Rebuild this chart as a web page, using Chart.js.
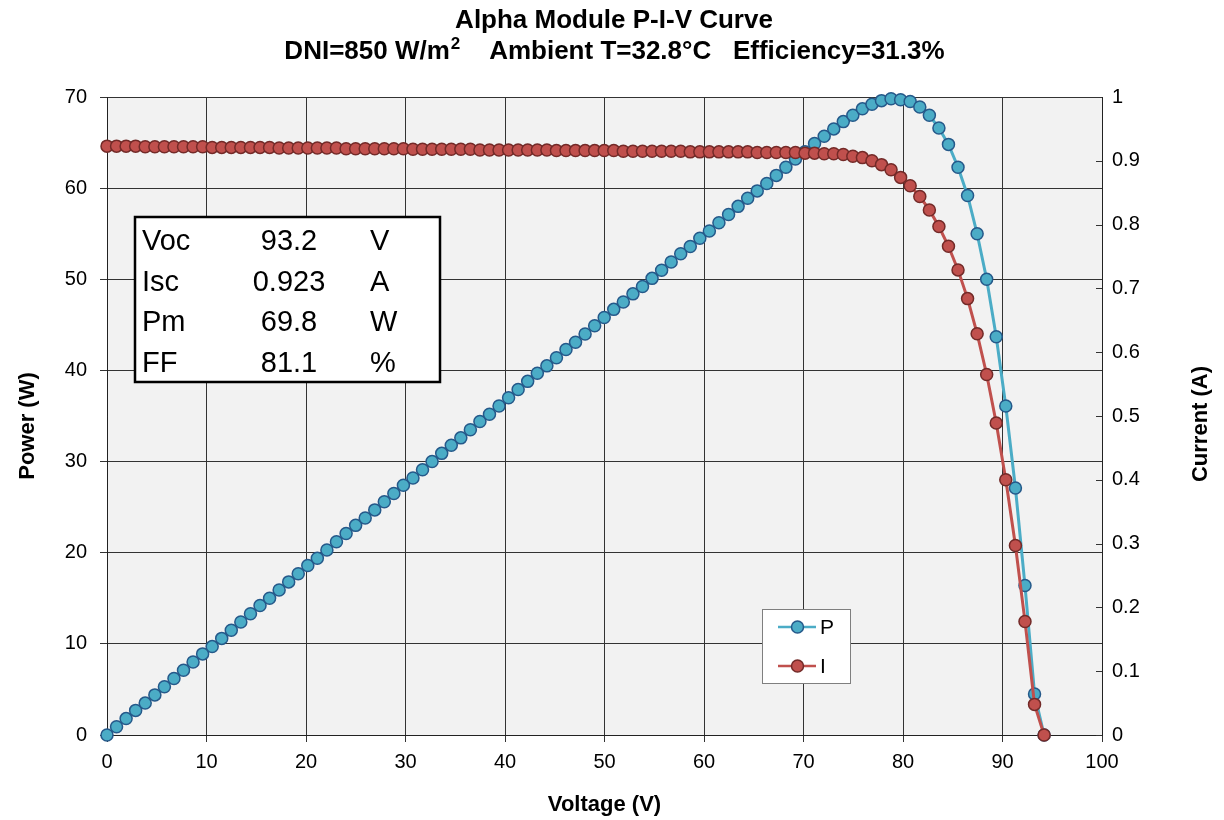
<!DOCTYPE html>
<html>
<head>
<meta charset="utf-8">
<script src="https://cdn.jsdelivr.net/npm/chart.js@4.4.0/dist/chart.umd.min.js"></script>
<style>
  html, body { margin: 0; padding: 0; background: #fff; }
</style>
</head>
<body>
<canvas id="pivChart" width="1224" height="820"></canvas>
<script>
// title: second line is split around the superscript "2" of W/m2
var titleMain = 'Alpha Module P-I-V Curve';
var titleSub = ['DNI=850 W/m', '2', '    Ambient T=32.8\u00b0C   Efficiency=31.3%'];

var voltage = [0.00, 0.96, 1.92, 2.88, 3.84, 4.81, 5.77, 6.73, 7.69, 8.65,
    9.61, 10.57, 11.53, 12.49, 13.45, 14.42, 15.38, 16.34, 17.30, 18.26,
    19.22, 20.18, 21.14, 22.10, 23.06, 24.03, 24.99, 25.95, 26.91, 27.87,
    28.83, 29.79, 30.75, 31.71, 32.67, 33.64, 34.60, 35.56, 36.52, 37.48,
    38.44, 39.40, 40.36, 41.32, 42.28, 43.25, 44.21, 45.17, 46.13, 47.09,
    48.05, 49.01, 49.97, 50.93, 51.89, 52.86, 53.82, 54.78, 55.74, 56.70,
    57.66, 58.62, 59.58, 60.54, 61.50, 62.47, 63.43, 64.39, 65.35, 66.31,
    67.27, 68.23, 69.19, 70.15, 71.11, 72.08, 73.04, 74.00, 74.96, 75.92,
    76.88, 77.84, 78.80, 79.76, 80.72, 81.69, 82.65, 83.61, 84.57, 85.53,
    86.49, 87.45, 88.41, 89.37, 90.33, 91.30, 92.26, 93.22, 94.18];

var power = [0.0, 0.9, 1.8, 2.7, 3.5, 4.4, 5.3, 6.2, 7.1, 8.0,
    8.9, 9.7, 10.6, 11.5, 12.4, 13.3, 14.2, 15.0, 15.9, 16.8,
    17.7, 18.6, 19.4, 20.3, 21.2, 22.1, 23.0, 23.8, 24.7, 25.6,
    26.5, 27.4, 28.2, 29.1, 30.0, 30.9, 31.8, 32.6, 33.5, 34.4,
    35.2, 36.1, 37.0, 37.9, 38.8, 39.7, 40.5, 41.4, 42.3, 43.1,
    44.0, 44.9, 45.8, 46.7, 47.5, 48.4, 49.2, 50.1, 51.0, 51.9,
    52.8, 53.6, 54.5, 55.3, 56.2, 57.1, 58.0, 58.9, 59.7, 60.5,
    61.4, 62.3, 63.2, 64.0, 64.9, 65.7, 66.5, 67.3, 68.0, 68.7,
    69.2, 69.6, 69.8, 69.7, 69.5, 68.9, 68.0, 66.6, 64.8, 62.3,
    59.2, 55.0, 50.0, 43.7, 36.1, 27.1, 16.4, 4.5, 0.0];

var current = [0.923, 0.923, 0.923, 0.923, 0.922, 0.922, 0.922, 0.922, 0.922, 0.922,
    0.922, 0.921, 0.921, 0.921, 0.921, 0.921, 0.921, 0.921, 0.920, 0.920,
    0.920, 0.920, 0.920, 0.920, 0.920, 0.919, 0.919, 0.919, 0.919, 0.919,
    0.919, 0.919, 0.918, 0.918, 0.918, 0.918, 0.918, 0.918, 0.918, 0.917,
    0.917, 0.917, 0.917, 0.917, 0.917, 0.917, 0.917, 0.916, 0.916, 0.916,
    0.916, 0.916, 0.916, 0.916, 0.915, 0.915, 0.915, 0.915, 0.915, 0.915,
    0.915, 0.914, 0.914, 0.914, 0.914, 0.914, 0.914, 0.914, 0.913, 0.913,
    0.913, 0.913, 0.913, 0.912, 0.912, 0.911, 0.911, 0.910, 0.907, 0.905,
    0.900, 0.894, 0.886, 0.874, 0.861, 0.844, 0.823, 0.797, 0.766, 0.729,
    0.684, 0.629, 0.565, 0.489, 0.400, 0.297, 0.178, 0.048, 0.000];

// summary table shown in the box
var statNames = ['Voc', 'Isc', 'Pm', 'FF'];
var statValues = ['93.2', '0.923', '69.8', '81.1'];
var statUnits = ['V', 'A', 'W', '%'];

var legendNames = ['P', 'I'];

var colors = {
    p: { line: '#4bacc6', fill: '#4bacc6', edge: '#25598a' },
    i: { line: '#c0504d', fill: '#c0504d', edge: '#732a28' }
};

var FONT = 'Arial, "Liberation Sans", sans-serif';

function toPoints(xs, ys) {
    var pts = [];
    for (let k = 0; k < xs.length; k++) pts.push({ x: xs[k], y: ys[k] });
    return pts;
}

var overlays = {
    id: 'overlays',
    beforeDraw(chart) {
        var a = chart.chartArea, ctx = chart.ctx;
        ctx.save();
        ctx.fillStyle = '#f2f2f2';
        ctx.fillRect(a.left, a.top, a.right - a.left, a.bottom - a.top);
        ctx.restore();
    },
    afterDraw(chart) {
        var ctx = chart.ctx, a = chart.chartArea;
        ctx.save();

        // title, drawn by hand so the superscript sits right
        ctx.fillStyle = '#000';
        ctx.textBaseline = 'alphabetic';
        ctx.textAlign = 'left';
        var big = 'bold 26px ' + FONT, small = 'bold 17px ' + FONT;
        ctx.font = big;
        var w1 = ctx.measureText(titleMain).width;
        ctx.fillText(titleMain, 614 - w1 / 2, 28);
        var wa = ctx.measureText(titleSub[0]).width, wc = ctx.measureText(titleSub[2]).width;
        ctx.font = small;
        var wb = ctx.measureText(titleSub[1]).width;
        var sx = 614 - (wa + wb + wc) / 2;
        ctx.font = big;
        ctx.fillText(titleSub[0], sx, 59);
        ctx.font = small;
        ctx.fillText(titleSub[1], sx + wa + 1, 49);
        ctx.font = big;
        ctx.fillText(titleSub[2], sx + wa + wb + 1, 59);

        // inward ticks on the current axis
        var y1 = chart.scales.y1;
        ctx.strokeStyle = '#333';
        ctx.lineWidth = 1;
        for (let i = 0; i < y1.ticks.length; i++) {
            var ty = Math.round(y1.getPixelForTick(i)) + 0.5;
            ctx.beginPath();
            ctx.moveTo(a.right - 6, ty);
            ctx.lineTo(a.right, ty);
            ctx.stroke();
        }

        // axis titles
        ctx.fillStyle = '#000';
        ctx.font = 'bold 22px ' + FONT;
        ctx.textAlign = 'center';
        ctx.textBaseline = 'middle';
        ctx.fillText('Voltage (V)', (a.left + a.right) / 2, 805);
        ctx.save();
        ctx.translate(28, 426);
        ctx.rotate(-Math.PI / 2);
        ctx.fillText('Power (W)', 0, 0);
        ctx.restore();
        ctx.save();
        ctx.translate(1201, 424);
        ctx.rotate(-Math.PI / 2);
        ctx.fillText('Current (A)', 0, 0);
        ctx.restore();

        // stats box
        ctx.fillStyle = '#fff';
        ctx.fillRect(135, 217, 305, 165);
        ctx.strokeStyle = '#000';
        ctx.lineWidth = 2.5;
        ctx.strokeRect(135, 217, 305, 165);
        ctx.fillStyle = '#000';
        ctx.font = '29px ' + FONT;
        for (let r = 0; r < statNames.length; r++) {
            var ry = 242 + r * 40.7;
            ctx.textAlign = 'left';
            ctx.fillText(statNames[r], 142, ry);
            ctx.textAlign = 'center';
            ctx.fillText(statValues[r], 289, ry);
            ctx.textAlign = 'left';
            ctx.fillText(statUnits[r], 370, ry);
        }

        // legend box
        ctx.fillStyle = '#fff';
        ctx.fillRect(762.5, 609.5, 88, 74);
        ctx.strokeStyle = '#7f7f7f';
        ctx.lineWidth = 1;
        ctx.strokeRect(762.5, 609.5, 88, 74);
        var keys = [colors.p, colors.i];
        ctx.font = '21px ' + FONT;
        for (let r = 0; r < legendNames.length; r++) {
            var ly = 627 + r * 39;
            ctx.strokeStyle = keys[r].line;
            ctx.lineWidth = 2.5;
            ctx.beginPath();
            ctx.moveTo(778, ly);
            ctx.lineTo(816, ly);
            ctx.stroke();
            ctx.beginPath();
            ctx.arc(797.5, ly, 6, 0, Math.PI * 2);
            ctx.fillStyle = keys[r].fill;
            ctx.fill();
            ctx.lineWidth = 1.5;
            ctx.strokeStyle = keys[r].edge;
            ctx.stroke();
            ctx.fillStyle = '#000';
            ctx.textAlign = 'left';
            ctx.fillText(legendNames[r], 820, ly + 1);
        }
        ctx.restore();
    }
};

Chart.defaults.font.family = FONT;
Chart.defaults.color = '#000';

new Chart(document.getElementById('pivChart'), {
    type: 'line',
    data: {
        datasets: [{
            label: 'P',
            data: toPoints(voltage, power),
            yAxisID: 'y',
            order: 2,
            borderColor: colors.p.line,
            borderWidth: 3,
            pointRadius: 6,
            pointBorderWidth: 1.5,
            pointBackgroundColor: colors.p.fill,
            pointBorderColor: colors.p.edge,
            tension: 0,
            clip: false
        }, {
            label: 'I',
            data: toPoints(voltage, current),
            yAxisID: 'y1',
            order: 1,
            borderColor: colors.i.line,
            borderWidth: 3,
            pointRadius: 6,
            pointBorderWidth: 1.5,
            pointBackgroundColor: colors.i.fill,
            pointBorderColor: colors.i.edge,
            tension: 0,
            clip: false
        }]
    },
    options: {
        responsive: false,
        animation: false,
        devicePixelRatio: 1,
        layout: { padding: { top: 97 } },
        plugins: {
            legend: { display: false },
            tooltip: { enabled: false },
            title: { display: false }
        },
        scales: {
            x: {
                type: 'linear', min: 0, max: 100,
                ticks: { stepSize: 10, font: { size: 20 }, padding: 8, maxRotation: 0 },
                grid: { color: '#333', tickLength: 7 },
                border: { color: '#222' },
                afterFit: s => { s.height = 85; }
            },
            y: {
                position: 'left', min: 0, max: 70,
                ticks: { stepSize: 10, font: { size: 20 }, padding: 13 },
                grid: { color: '#333', tickLength: 7 },
                border: { color: '#222' },
                afterFit: s => { s.width = 107; }
            },
            y1: {
                position: 'right', min: 0, max: 1,
                ticks: { stepSize: 0.1, font: { size: 20 }, padding: 10, callback: v => String(Math.round(v * 10) / 10) },
                grid: { drawOnChartArea: false, drawTicks: false },
                border: { color: '#222' },
                afterFit: s => { s.width = 122; }
            }
        }
    },
    plugins: [overlays]
});
</script>
</body>
</html>
